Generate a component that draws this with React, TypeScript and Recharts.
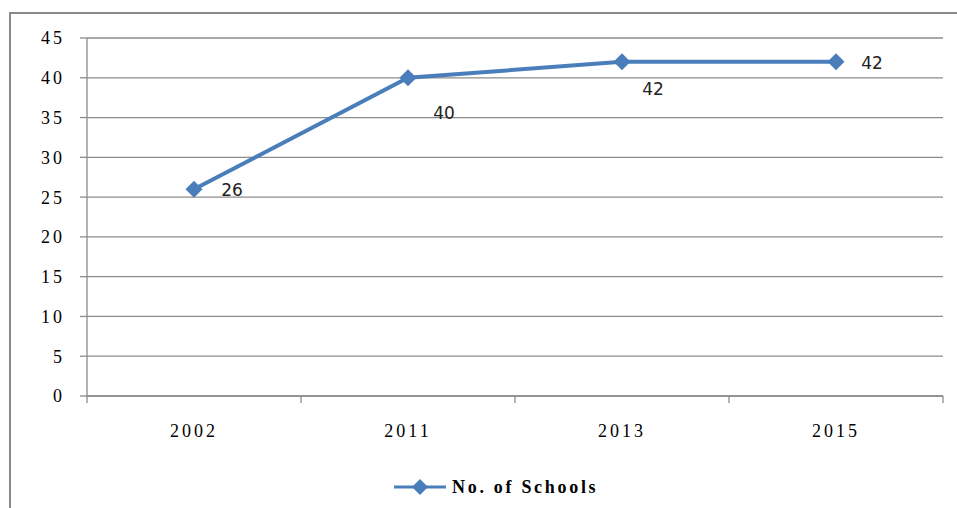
import {
  LineChart,
  Line,
  XAxis,
  YAxis,
  CartesianGrid,
  Legend,
  LabelList,
} from 'recharts';

const years = ['2002', '2011', '2013', '2015'];
const schools = [26, 40, 42, 42];
const yTicks = [0, 5, 10, 15, 20, 25, 30, 35, 40, 45];

const chartData = years.map((year, i) => ({ year, schools: schools[i] }));

const BLUE = '#4A7EBB';
const GRID = '#8C8C8C';
const SERIF = '"Liberation Serif", "Times New Roman", serif';

// where each value label sits relative to its marker
const labelShift = [
  { dx: 38, dy: 1 },
  { dx: 36, dy: 35 },
  { dx: 31, dy: 27 },
  { dx: 36, dy: 1 },
];

const Diamond = (props: any) => {
  const { cx, cy } = props;
  if (cx == null || cy == null) return null;
  const r = 8.5;
  return (
    <polygon
      points={`${cx},${cy - r} ${cx + r},${cy} ${cx},${cy + r} ${cx - r},${cy}`}
      fill={BLUE}
    />
  );
};

const ValueLabel = (props: any) => {
  const { x, y, value, index } = props;
  const s = labelShift[index] ?? { dx: 30, dy: 0 };
  return (
    <text
      x={x + s.dx}
      y={y + s.dy}
      textAnchor="middle"
      dominantBaseline="central"
      fontFamily='"DejaVu Sans", Verdana, sans-serif'
      fontSize={17}
      fill="#222"
    >
      {value}
    </text>
  );
};

// category label plus Excel-style tick marks on the band edges
const YearTick = (props: any) => {
  const { x, y, payload, index, visibleTicksCount } = props;
  const half = payload?.offset ?? 0;
  const axisY = y - 26;
  return (
    <g>
      <line x1={x - half} y1={axisY} x2={x - half} y2={axisY + 7} stroke={GRID} strokeWidth={1.3} />
      {index === visibleTicksCount - 1 && (
        <line x1={x + half} y1={axisY} x2={x + half} y2={axisY + 7} stroke={GRID} strokeWidth={1.3} />
      )}
      <text
        x={x}
        y={y + 2}
        textAnchor="middle"
        dominantBaseline="hanging"
        fill="#000"
        fontFamily={SERIF}
        fontSize={18}
        letterSpacing={3}
      >
        {payload.value}
      </text>
    </g>
  );
};

const LegendContent = () => (
  <div
    style={{
      display: 'flex',
      alignItems: 'center',
      height: 34,
      paddingLeft: 393,
    }}
  >
    <svg width={54} height={20}>
      <line x1={1} y1={10} x2={53} y2={10} stroke={BLUE} strokeWidth={3} />
      <polygon points="27,2 35,10 27,18 19,10" fill={BLUE} />
    </svg>
    <span
      style={{
        marginLeft: 5,
        fontFamily: SERIF,
        fontWeight: 'bold',
        fontSize: 18,
        letterSpacing: 2.7,
        color: '#000',
      }}
    >
      No. of Schools
    </span>
  </div>
);

export default function App() {
  return (
    <div
      style={{
        position: 'fixed',
        left: 0,
        top: 0,
        width: 957,
        height: 508,
        overflow: 'hidden',
        background: '#fff',
      }}
    >
      {/* outer chart frame, cut off at right and bottom like the screenshot */}
      <div
        style={{
          position: 'absolute',
          left: 9,
          top: 12,
          width: 970,
          height: 520,
          border: '2.5px solid #8A8A8A',
          boxSizing: 'border-box',
        }}
      />
      <div style={{ position: 'absolute', left: 0, top: 0 }}>
        <LineChart
          width={957}
          height={508}
          data={chartData}
          margin={{ top: 38, right: 14, bottom: 4, left: 0 }}
        >
          <CartesianGrid
            horizontal
            vertical={false}
            stroke={GRID}
            strokeWidth={1.3}
          />
          <XAxis
            dataKey="year"
            scale="band"
            height={74}
            tickLine={false}
            tickSize={7}
            tickMargin={19}
            axisLine={{ stroke: GRID, strokeWidth: 1.3 }}
            tick={<YearTick />}
          />
          <YAxis
            width={87}
            domain={[0, 45]}
            ticks={yTicks}
            interval={0}
            tickSize={7}
            tickMargin={15}
            axisLine={{ stroke: GRID, strokeWidth: 1.3 }}
            tickLine={{ stroke: GRID, strokeWidth: 1.3 }}
            tick={{ fill: '#000', fontFamily: SERIF, fontSize: 18, letterSpacing: 3 }}
          />
          <Legend
            verticalAlign="bottom"
            height={34}
            content={<LegendContent />}
          />
          <Line
            dataKey="schools"
            name="No. of Schools"
            stroke={BLUE}
            strokeWidth={4}
            dot={<Diamond />}
            activeDot={false}
            isAnimationActive={false}
          >
            <LabelList dataKey="schools" content={<ValueLabel />} />
          </Line>
        </LineChart>
      </div>
    </div>
  );
}
